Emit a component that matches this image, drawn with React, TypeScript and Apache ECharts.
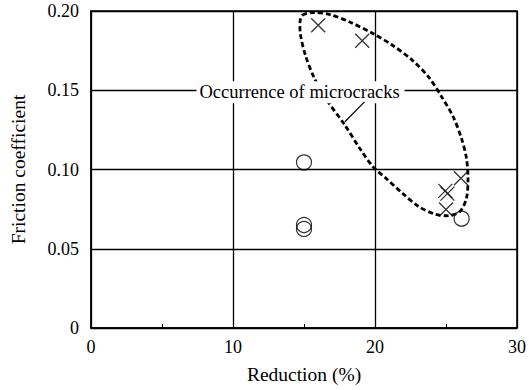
import React, { useEffect, useRef } from "react";
import * as echarts from "echarts";

// Data (Reduction %, Friction coefficient)
const circlePoints: [number, number][] = [
  [15, 0.1045],
  [15, 0.065],
  [15, 0.0625],
  [26.1, 0.069],
];
const crossPoints: [number, number][] = [
  [16, 0.191],
  [19.1, 0.1812],
  [26.05, 0.0945],
  [24.95, 0.0865],
  [25.1, 0.0848],
  [25.0, 0.0748],
];
// Outline of the hand-drawn dashed "microcracks" region, in data units
const regionOutline: [number, number][] = [
  [14.88, 0.1973],
  [15.69, 0.199],
  [16.84, 0.1977],
  [18.22, 0.1931],
  [19.85, 0.1858],
  [21.23, 0.1784],
  [22.62, 0.169],
  [23.77, 0.1584],
  [24.7, 0.1458],
  [25.51, 0.1332],
  [26.09, 0.1196],
  [26.44, 0.1071],
  [26.55, 0.0945],
  [26.44, 0.0819],
  [25.97, 0.0734],
  [25.16, 0.0709],
  [24.24, 0.0718],
  [23.08, 0.0766],
  [21.93, 0.085],
  [20.77, 0.0945],
  [19.85, 0.1018],
  [18.92, 0.1134],
  [17.88, 0.128],
  [16.61, 0.1438],
  [15.69, 0.1584],
  [15.1, 0.1721],
  [14.76, 0.1847],
  [14.72, 0.1931],
];
const labelText = "Occurrence of microcracks";
const labelPos: [number, number] = [7.64, 0.1488];
const leaderLine: [[number, number], [number, number]] = [
  [19.26, 0.1427],
  [17.88, 0.1301],
];
const xTicks = { min: 0, max: 30, interval: 10 };
const yTicks = { min: 0, max: 0.2, interval: 0.05 };

const FONT = "Liberation Serif";

export default function App() {
  const ref = useRef<HTMLDivElement>(null);
  useEffect(() => {
    if (!ref.current) return;
    const chart = echarts.init(ref.current, undefined, { renderer: "svg" });
    const option: any = {
      animation: false,
      backgroundColor: "#fff",
      textStyle: { fontFamily: FONT },
      grid: {
        left: 90,
        right: 6,
        top: 11,
        bottom: 62,
        show: true,
        borderColor: "#000",
        borderWidth: 1.5,
        backgroundColor: "transparent",
      },
      xAxis: {
        type: "value",
        min: xTicks.min,
        max: xTicks.max,
        interval: xTicks.interval,
        name: "Reduction (%)",
        nameLocation: "middle",
        nameGap: 36,
        nameTextStyle: { fontFamily: FONT, fontSize: 19.5, color: "#000" },
        axisLine: { show: true, lineStyle: { color: "#000", width: 1.5 } },
        axisTick: { show: true, inside: true, length: 4, lineStyle: { color: "#000" } },
        minorTick: { show: true, splitNumber: 2, length: 4, lineStyle: { color: "#000", width: 1 } },
        axisLabel: { fontFamily: FONT, fontSize: 18, color: "#000", margin: 10 },
        splitLine: { show: true, lineStyle: { color: "#000", width: 1.3 } },
      },
      yAxis: {
        type: "value",
        min: yTicks.min,
        max: yTicks.max,
        interval: yTicks.interval,
        name: "Friction coefficient",
        nameLocation: "middle",
        nameGap: 63,
        nameTextStyle: { fontFamily: FONT, fontSize: 19.5, color: "#000" },
        axisLine: { show: true, lineStyle: { color: "#000", width: 1.5 } },
        axisTick: { show: false },
        axisLabel: {
          fontFamily: FONT,
          fontSize: 18,
          color: "#000",
          margin: 12,
          padding: [3, 0, 0, 0],
          formatter: (v: number) => (v === 0 ? "0" : v.toFixed(2)),
        },
        splitLine: { show: true, lineStyle: { color: "#000", width: 1.3 } },
      },
      series: [
        {
          type: "scatter",
          data: circlePoints,
          symbol: "circle",
          symbolSize: 15,
          itemStyle: { color: "none", borderColor: "#000", borderWidth: 1.2 },
          z: 5,
        },
        {
          type: "scatter",
          data: crossPoints,
          symbol: "path://M0 0L10 10M10 0L0 10",
          symbolSize: 14,
          itemStyle: { color: "none", borderColor: "#000", borderWidth: 1.3 },
          z: 5,
        },
      ],
    };
    chart.setOption(option);

    const px = (p: [number, number]) => chart.convertToPixel({ gridIndex: 0 }, p) as number[];
    const outline = regionOutline.map(px);
    const lp = px(labelPos);
    const l0 = px(leaderLine[0]);
    const l1 = px(leaderLine[1]);
    chart.setOption({
      graphic: [
        {
          type: "polygon",
          shape: { points: outline, smooth: 0.3 },
          style: { fill: "none", stroke: "#000", lineWidth: 2.8, lineDash: [5, 3] },
          z: 10,
          silent: true,
        },
        {
          type: "rect",
          shape: { x: lp[0] - 3, y: lp[1] - 11, width: 208, height: 22 },
          style: { fill: "#fff" },
          z: 11,
          silent: true,
        },
        {
          type: "text",
          x: lp[0],
          y: lp[1],
          style: {
            text: labelText,
            fontFamily: FONT,
            fontSize: 18.5,
            fill: "#000",
            verticalAlign: "middle",
            align: "left",
          },
          z: 12,
          silent: true,
        },
        {
          type: "line",
          shape: { x1: l0[0], y1: l0[1], x2: l1[0], y2: l1[1] },
          style: { stroke: "#000", lineWidth: 1.2 },
          z: 12,
          silent: true,
        },
      ],
    });
    return () => chart.dispose();
  }, []);
  return <div ref={ref} style={{ width: 529, height: 390, position: "absolute", left: 0, top: 0 }} />;
}
